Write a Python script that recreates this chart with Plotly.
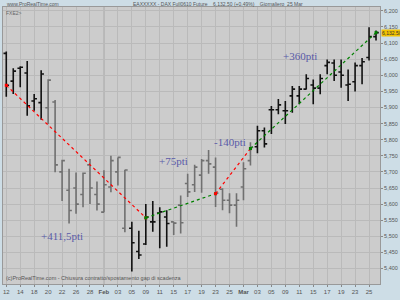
import plotly.graph_objects as go

# ---- data ----
bar_index = list(range(54))
opens  = [6068, 5982, 6022, 6007, 5920, 5915, 5899, 5917, 5700, 5643,
          5650, 5630, 5722, 5630, 5575, 5653, 5700, 5525, 5525, 5453,
          5476, 5545, 5572, 5560, 5545, 5597, 5664, 5660, 5690, 5735,
          5715, 5646, 5612, 5597, 5653, 5735, 5778, 5828, 5893, 5893,
          5890, 5936, 5936, 5957, 5970, 5960, 6030, 6038, 6010, 5970,
          5980, 6030, 6055, 6120]
highs  = [6074, 6022, 6028, 6044, 5942, 6016, 5988, 5923, 5738, 5710,
          5698, 5698, 5740, 5670, 5705, 5750, 5745, 5707, 5545, 5517,
          5600, 5610, 5590, 5581, 5545, 5627, 5694, 5722, 5740, 5768,
          5745, 5649, 5634, 5634, 5730, 5792, 5843, 5838, 5905, 5926,
          5920, 5967, 5967, 6003, 5987, 6003, 6049, 6049, 6049, 6018,
          6040, 6054, 6149, 6139]
lows   = [5933, 5942, 5963, 5874, 5890, 5862, 5849, 5699, 5610, 5540,
          5570, 5590, 5600, 5580, 5575, 5637, 5658, 5513, 5391, 5430,
          5473, 5514, 5463, 5468, 5504, 5509, 5622, 5638, 5635, 5694,
          5591, 5581, 5572, 5530, 5612, 5720, 5758, 5776, 5818, 5879,
          5849, 5884, 5910, 5956, 5910, 5941, 6003, 5982, 5961, 5920,
          5950, 5972, 6046, 6108]
closes = [5969, 6013, 6025, 5905, 5927, 6004, 5985, 5722, 5735, 5580,
          5600, 5696, 5650, 5600, 5660, 5735, 5745, 5706, 5480, 5442,
          5560, 5545, 5576, 5540, 5541, 5542, 5638, 5715, 5735, 5725,
          5634, 5612, 5597, 5612, 5710, 5776, 5828, 5787, 5893, 5908,
          5890, 5957, 5957, 5990, 5960, 5990, 6040, 6000, 6000, 5972,
          6030, 6042, 6120, 6132.5]
bar_colour = (["k"] * 6 + ["g"] * 12 + ["k"] * 6 + ["g"] * 12 + ["k"] * 18)

tick_positions = list(range(0, 54, 2))
tick_labels = ["12", "14", "18", "20", "22", "26", "28", "<b>Feb</b>", "03", "05",
               "09", "11", "15", "17", "19", "23", "25", "<b>Mar</b>", "03", "05",
               "09", "11", "15", "17", "19", "23", "25"]
y_ticks = list(range(5400, 6201, 50))
y_tick_labels = ["{:,}".format(v) for v in y_ticks]

trend_x = [0, 20, 30, 35, 53]
trend_y = [5969, 5557.5, 5632.5, 5772.5, 6132.5]
trend_colours = ["#ff0000", "#008000", "#ff0000", "#008000"]
trend_labels = ["+411,5pti", "+75pti", "-140pti", "+360pti"]
label_x = [8.0, 24.0, 32.1, 42.1]
label_y = [5501, 5733, 5792, 6059]

last_price = 6132.5

fig = go.Figure()

for code, col in (("k", "#111111"), ("g", "#707070")):
    idx = [i for i in bar_index if bar_colour[i] == code]
    fig.add_trace(go.Ohlc(
        x=[bar_index[i] for i in idx],
        open=[opens[i] for i in idx], high=[highs[i] for i in idx],
        low=[lows[i] for i in idx], close=[closes[i] for i in idx],
        increasing=dict(line=dict(color=col, width=1.6)),
        decreasing=dict(line=dict(color=col, width=1.6)),
        tickwidth=0.4, showlegend=False, hoverinfo="skip"))

for k in range(4):
    fig.add_trace(go.Scatter(
        x=trend_x[k:k + 2], y=trend_y[k:k + 2], mode="lines+markers",
        line=dict(color=trend_colours[k], width=1.2, dash="dot"),
        marker=dict(symbol="square", size=3, color=trend_colours[k]),
        showlegend=False, hoverinfo="skip"))
    fig.add_annotation(x=label_x[k], y=label_y[k], text=trend_labels[k],
                       showarrow=False,
                       font=dict(family="Liberation Serif", size=11, color="#5a5aa8"))

# darker month separators
for m in (14, 34):
    fig.add_shape(type="line", x0=m, x1=m, y0=0, y1=1, yref="paper",
                  line=dict(color="#a0a0a0", width=1), layer="below")

fig.add_annotation(x=1.0, xref="paper", xanchor="left", y=last_price,
                   text="6,132.50", showarrow=False, bgcolor="#f2c200",
                   font=dict(family="Liberation Sans", size=5, color="#333"),
                   borderpad=0, xshift=1)
top_font = dict(family="Liberation Sans", size=5, color="#555")
fig.add_annotation(x=0.005, xref="paper", y=1, yref="paper", yanchor="middle",
                   yshift=3.5, xanchor="left", text="www.ProRealTime.com",
                   showarrow=False, font=top_font)
fig.add_annotation(x=0.57, xref="paper", y=1, yref="paper", yanchor="middle",
                   yshift=3.5, xanchor="center",
                   text="EAXXXXX - DAX Full0610 Future    6,132.50 (+0.49%)    Giornaliero  25 Mar",
                   showarrow=False, font=top_font)
fig.add_annotation(x=0.003, xref="paper", y=0.997, yref="paper", yanchor="top",
                   xanchor="left", text="FXE2>", showarrow=False,
                   font=dict(family="Liberation Sans", size=5, color="#666"))
fig.add_annotation(x=0.003, xref="paper", y=0.003, yref="paper", yanchor="bottom",
                   xanchor="left",
                   text="(c)ProRealTime.com - Chiusura contratto/spostamento gap di scadenza",
                   showarrow=False,
                   font=dict(family="Liberation Sans", size=5.5, color="#555"))

fig.update_layout(
    width=400, height=300,
    margin=dict(l=2, r=17, t=7, b=16),
    paper_bgcolor="#cddde6", plot_bgcolor="#cccccc",
    xaxis=dict(range=[-0.47, 53.57], tickmode="array", tickvals=tick_positions,
               ticktext=tick_labels, showgrid=True, gridcolor="#bababa", gridwidth=1,
               zeroline=False, rangeslider=dict(visible=False),
               tickfont=dict(family="Liberation Sans", size=6, color="#555"),
               ticks="outside", ticklen=2, tickcolor="#888",
               showline=True, linecolor="#999", mirror=True),
    yaxis=dict(range=[5352, 6212], side="right", tickmode="array", tickvals=y_ticks,
               ticktext=y_tick_labels, showgrid=True, gridcolor="#bababa", gridwidth=1,
               zeroline=False,
               tickfont=dict(family="Liberation Sans", size=5.5, color="#555"),
               ticks="outside", ticklen=2, tickcolor="#888",
               showline=True, linecolor="#999", mirror=True),
    font=dict(family="Liberation Sans"),
)

fig.write_html("out.html")
